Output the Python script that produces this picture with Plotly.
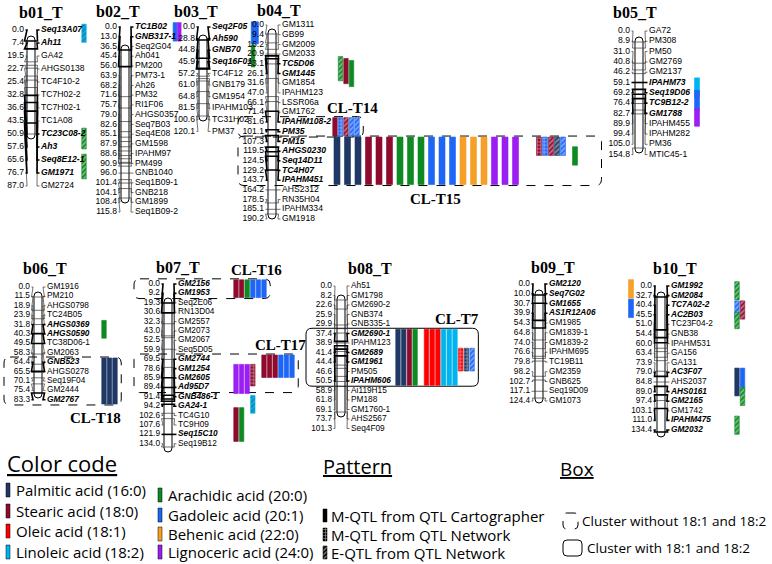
import plotly.graph_objects as go

# ---------------- DATA ----------------
b01_pos = [0.0, 7.4, 19.5, 22.7, 25.4, 32.8, 36.6, 43.5, 50.9, 57.6, 65.6, 76.7, 87.0]
b01_mk = ["Seq13A07", "Ah11", "GA42", "AHGS0138", "TC4F10-2", "TC7H02-2", "TC7H02-1", "TC1A08",
          "TC23C08-2", "Ah3", "Seq8E12-1", "GM1971", "GM2724"]
b01_hit = [1, 1, 0, 0, 0, 0, 0, 0, 1, 1, 1, 1, 0]

b02_pos = [0.0, 13.0, 36.5, 45.4, 56.0, 63.9, 68.2, 71.6, 75.7, 79.0, 82.6, 85.1, 87.9, 88.6, 90.9,
           96.0, 101.4, 104.1, 108.4, 115.8]
b02_mk = ["TC1B02", "GNB317-1", "Seq2G04", "Ah041", "PM200", "PM73-1", "Ah26", "PM32", "RI1F06",
          "AHGS0357", "Seq7B03", "Seq4E08", "GM1598", "IPAHM97", "PM499", "GNB1040", "Seq1B09-1",
          "GNB218", "GM1899", "Seq1B09-2"]
b02_hit = [1, 1] + [0] * 18

b03_pos = [0.0, 28.8, 44.8, 45.9, 57.2, 61.0, 64.8, 81.5, 100.6, 120.1]
b03_mk = ["Seq2F05", "Ah590", "GNB70", "Seq16F01", "TC4F12", "GNB179", "GM1954", "IPAHM103",
          "TC31H02", "PM37"]
b03_hit = [1, 1, 1, 1, 0, 0, 0, 0, 0, 0]

b04_pos = [0.0, 9.4, 16.2, 20.9, 23.1, 26.1, 31.6, 47.0, 66.1, 71.4, 81.6, 101.1, 107.3, 119.5,
           124.5, 129.2, 143.7, 164.2, 178.5, 185.1, 190.2]
b04_mk = ["GM1311", "GB99", "GM2009", "GM2033", "TC5D06", "GM1445", "GM1854", "IPAHM123",
          "LSSR06a", "GM1762", "IPAHM108-2", "PM35", "PM15", "AHGS0230", "Seq14D11", "TC4H07",
          "IPAHM451", "AHS2312", "RN35H04", "IPAHM334", "GM1918"]
b04_hit = [0, 0, 0, 0, 1, 1, 0, 0, 0, 0, 1, 1, 1, 1, 1, 1, 1, 0, 0, 0, 0]

b05_pos = [0.0, 8.9, 31.0, 40.8, 46.2, 59.1, 69.2, 76.4, 82.7, 89.9, 99.4, 105.0, 154.8]
b05_mk = ["GA72", "PM308", "PM50", "GM2769", "GM2137", "IPAHM73", "Seq19D06", "TC9B12-2",
          "GM1788", "IPAHM455", "IPAHM282", "PM36", "MTIC45-1"]
b05_hit = [0, 0, 0, 0, 0, 1, 1, 1, 1, 0, 0, 0, 0]

b06_pos = [0.0, 11.5, 18.9, 23.9, 31.8, 40.3, 49.5, 58.3, 64.4, 65.5, 70.1, 75.4, 83.3]
b06_mk = ["GM1916", "PM210", "AHGS0798", "TC24B05", "AHGS0369", "AHGS0590", "TC38D06-1",
          "GM2063", "GNB523", "AHGS0278", "Seq19F04", "GM2444", "GM2767"]
b06_hit = [0, 0, 0, 0, 1, 1, 0, 0, 1, 0, 0, 0, 1]

b07_pos = [0.0, 9.2, 19.3, 30.6, 32.3, 43.0, 52.5, 59.9, 69.5, 78.6, 85.9, 89.4, 91.4, 94.2,
           102.6, 107.6, 121.9, 134.0]
b07_mk = ["GM2156", "GM1953", "Seq2E06", "RN13D04", "GM2557", "GM2073", "GM2067", "Seq5D05",
          "GM2744", "GM1254", "GM2605", "Ad95D7", "GNB486-1", "GA24-1", "TC4G10", "TC9H09",
          "Seq15C10", "Seq19B12"]
b07_hit = [1, 1, 0, 0, 0, 0, 0, 0, 1, 1, 1, 1, 1, 1, 0, 0, 1, 0]

b08_pos = [0.0, 8.2, 22.6, 25.9, 29.9, 37.4, 38.9, 41.4, 44.4, 46.6, 50.5, 58.9, 61.8, 69.1,
           73.7, 101.3]
b08_mk = ["Ah51", "GM1798", "GM2690-2", "GNB374", "GNB335-1", "GM2690-1", "IPAHM123", "GM2689",
          "GM1961", "PM505", "IPAHM606", "Ai119H15", "PM188", "GM1760-1", "AHS2567", "Seq4F09"]
b08_hit = [0, 0, 0, 0, 0, 1, 0, 1, 1, 0, 1, 0, 0, 0, 0, 0]

b09_pos = [0.0, 10.0, 30.7, 39.9, 54.3, 64.8, 74.0, 76.6, 79.8, 98.2, 102.7, 117.1, 124.4]
b09_mk = ["GM2120", "Seq7G02", "GM1655", "AS1R12A06", "GM1985", "GM1839-1", "GM1839-2",
          "IPAHM695", "TC19B11", "GM2359", "GNB625", "Seq19D09", "GM1073"]
b09_hit = [1, 1, 1, 1, 0, 0, 0, 0, 0, 0, 0, 0, 0]

b10_pos = [0.0, 32.7, 40.4, 45.5, 51.0, 54.4, 60.0, 63.4, 73.9, 79.0, 84.8, 89.0, 97.4, 103.1,
           111.0, 134.4]
b10_mk = ["GM1992", "GM2084", "TC7A02-2", "AC2B03", "TC23F04-2", "GNB38", "IPAHM531", "GA156",
          "GA131", "AC3F07", "AHS2037", "AHS0161", "GM2165", "GM1742", "IPAHM475", "GM2032"]
b10_hit = [1, 1, 1, 1, 0, 0, 0, 0, 0, 1, 0, 1, 1, 0, 1, 1]

# QTL: (trait, first marker row, last marker row, method, column, column group)
# method: M = M-QTL (QTL Cartographer), N = M-QTL (QTL Network), E = E-QTL (QTL Network)
b01_qtl = [("18:2", 0, 0.5, "E", 0, "b01"), ("20:0", 8, 8.7, "E", 0, "b01"),
           ("20:0", 10, 11, "E", 0, "b01")]
b02_qtl = [("20:1", 0, 1, "M", 0, "b02"), ("24:0", 0, 1, "M", 1, "b02")]
b03_qtl = [("20:1", 0, 1, "M", 0, "b03"), ("20:1", 0, 1, "M", 1, "b03"),
           ("20:0", 2, 3, "M", 0, "b03")]
b04_qtl = [("20:0", 3.7, 5.3, "E", 1, "b04a"), ("18:0", 3.9, 5.6, "M", 2, "b04a"),
           ("20:0", 4.1, 5.9, "M", 3, "b04a"),
           ("18:0", 10, 11, "M", 0, "b04a"), ("20:1", 10, 11, "N", 1, "b04a"),
           ("18:0", 10, 11, "E", 2, "b04a"), ("20:1", 10, 11, "E", 3, "b04a"),
           ("20:1", 10, 11, "E", 4, "b04a"),
           ("16:0", 12, 16, "M", 0, "b04b"), ("16:0", 12, 16, "M", 1, "b04b"),
           ("16:0", 12, 16, "M", 2, "b04b"), ("18:0", 12, 16, "M", 3, "b04b"),
           ("18:0", 12, 16, "M", 4, "b04b"), ("18:0", 12, 16, "M", 5, "b04b"),
           ("20:0", 12, 16, "M", 6, "b04b"), ("20:0", 12, 16, "M", 7, "b04b"),
           ("20:0", 12, 16, "M", 8, "b04b"), ("20:1", 12, 16, "M", 9, "b04b"),
           ("20:1", 12, 16, "M", 10, "b04b"), ("20:1", 12, 16, "M", 11, "b04b"),
           ("22:0", 12, 16, "M", 12, "b04b"), ("22:0", 12, 16, "M", 13, "b04b"),
           ("22:0", 12, 16, "M", 14, "b04b"), ("24:0", 12, 16, "M", 15, "b04b"),
           ("24:0", 12, 16, "M", 16, "b04b"), ("24:0", 12, 16, "M", 17, "b04b"),
           ("18:0", 12, 13, "N", 0, "b04c"), ("20:1", 12, 13, "N", 1, "b04c"),
           ("18:0", 12, 13, "E", 2, "b04c"), ("16:0", 12, 13, "E", 3, "b04c"),
           ("20:1", 12, 13, "E", 4, "b04c"), ("20:0", 13, 14, "M", 6, "b04c")]
b05_qtl = [("18:2", 5, 6, "M", 0, "b05"), ("20:1", 6.2, 7.2, "M", 0, "b05"),
           ("24:0", 8, 8.8, "M", 0, "b05")]
b06_qtl = [("20:0", 4, 5, "M", 0, "b06"),
           ("16:0", 8, 12, "M", 0, "b06"), ("16:0", 8, 12, "M", 1, "b06"),
           ("16:0", 8, 12, "M", 2, "b06")]
b07_qtl = [("18:0", 0, 1, "M", 0, "b07"), ("18:0", 0, 1, "M", 1, "b07"),
           ("20:0", 0, 1, "M", 2, "b07"), ("20:1", 0, 1, "M", 3, "b07"),
           ("20:1", 0, 1, "M", 4, "b07"), ("20:1", 0, 1, "M", 5, "b07"),
           ("24:0", 9, 11.2, "M", 0, "b07"), ("24:0", 9, 11.2, "M", 1, "b07"),
           ("24:0", 9, 11.2, "M", 2, "b07"), ("18:0", 9, 10.4, "N", 3, "b07"),
           ("18:0", 8, 9.5, "M", 5, "b07"), ("18:0", 8, 9.5, "M", 6, "b07"),
           ("18:0", 8, 9.5, "M", 7, "b07"), ("20:1", 8, 9.5, "M", 8, "b07"),
           ("20:1", 8, 9.5, "M", 9, "b07"), ("20:1", 8, 9.5, "M", 10, "b07"),
           ("18:2", 12.3, 13.3, "E", 3, "b07"),
           ("18:0", 13.6, 16.3, "M", 0, "b07"), ("20:0", 13.6, 16.3, "M", 1, "b07")]
b08_qtl = [("16:0", 5, 10, "M", 0, "b08"), ("16:0", 5, 10, "M", 1, "b08"),
           ("18:0", 5, 10, "M", 2, "b08"), ("20:0", 5, 10, "M", 3, "b08"),
           ("18:1", 5, 10, "M", 5, "b08"), ("18:1", 5, 10, "M", 6, "b08"),
           ("18:1", 5, 10, "M", 7, "b08"), ("18:2", 5, 10, "M", 8, "b08"),
           ("18:2", 5, 10, "M", 9, "b08"), ("18:2", 5, 10, "M", 10, "b08"),
           ("18:1", 7, 8.5, "N", 11, "b08"), ("16:0", 7, 8.5, "N", 12, "b08"),
           ("20:1", 7, 8.5, "E", 13, "b08")]
b09_qtl = [("22:0", 0, 1, "M", 0, "b09"), ("20:1", 2, 3, "M", 0, "b09")]
b10_qtl = [("20:0", 0, 1, "E", 0, "b10"), ("20:1", 2, 3, "E", 0, "b10"),
           ("18:0", 2, 3, "E", 1, "b10"), ("20:0", 3.2, 4, "E", 0, "b10"),
           ("16:0", 9, 11, "M", 0, "b10"), ("20:1", 9, 10.5, "M", 1, "b10"),
           ("20:0", 11, 12, "E", 1, "b10"), ("20:0", 14, 15, "E", 0, "b10")]

# clusters: (label, chromosome, first row, last row, kind)
clusters = [("CL-T14", "b04_T", 10, 11, "dash"), ("CL-T15", "b04_T", 12, 16, "dash"),
            ("CL-T16", "b07_T", 0, 1, "dash"), ("CL-T17", "b07_T", 8, 11, "dash"),
            ("CL-T18", "b06_T", 8, 12, "dash"), ("CL-T7", "b08_T", 5, 10, "solid")]

trait_names = ["Palmitic acid (16:0)", "Stearic acid (18:0)", "Oleic acid (18:1)",
               "Linoleic acid (18:2)", "Arachidic acid (20:0)", "Gadoleic acid (20:1)",
               "Behenic acid (22:0)", "Lignoceric acid (24:0)"]
trait_codes = ["16:0", "18:0", "18:1", "18:2", "20:0", "20:1", "22:0", "24:0"]
pattern_names = ["M-QTL from QTL Cartographer", "M-QTL from QTL Network", "E-QTL from QTL Network"]
pattern_codes = ["M", "N", "E"]
box_names = ["Cluster without 18:1 and 18:2", "Cluster with 18:1 and 18:2"]

# ---------------- STYLE / LAYOUT ----------------
COLORS = {"16:0": "#1F3864", "18:0": "#8E0B2E", "18:1": "#FF0000", "18:2": "#00B4F0",
          "20:0": "#0E8A22", "20:1": "#1E66F5", "22:0": "#F7A028", "24:0": "#9B1EF2"}
PAT = {"M": "", "N": "+", "E": "/"}

# geometry of each linkage group, in pixels of the 772x564 canvas
GEOM = {
    "b01_T": dict(pr=24, cx=31, nl=41, ly0=30, dy=13.0, top=41, bot=134, tx=41, ty=12, fs=8.6),
    "b02_T": dict(pr=117, cx=125, nl=135, ly0=27, dy=9.74, top=50, bot=198, tx=118, ty=11, fs=8.6),
    "b03_T": dict(pr=195, cx=203, nl=212, ly0=27, dy=11.6, top=40, bot=116, tx=196, ty=11, fs=8.6),
    "b04_T": dict(pr=264, cx=272, nl=282, ly0=25, dy=9.7, top=34, bot=214, tx=279, ty=10, fs=8.6),
    "b05_T": dict(pr=630, cx=639, nl=649, ly0=31, dy=10.3, top=42, bot=148, tx=635, ty=12, fs=8.6),
    "b06_T": dict(pr=30, cx=38, nl=47, ly0=287, dy=9.4, top=297, bot=393, tx=45, ty=268, fs=8.3),
    "b07_T": dict(pr=160, cx=168, nl=178, ly0=284, dy=9.4, top=303, bot=447, tx=178, ty=267, fs=8.3),
    "b08_T": dict(pr=332, cx=341, nl=351, ly0=286, dy=9.5, top=300, bot=412, tx=370, ty=268, fs=8.3),
    "b09_T": dict(pr=530, cx=539, nl=549, ly0=284, dy=9.75, top=295, bot=398, tx=553, ty=267, fs=8.3),
    "b10_T": dict(pr=652, cx=661, nl=671, ly0=286, dy=9.6, top=297, bot=432, tx=675, ty=268, fs=8.3),
}
# QTL column groups: first column x, column step, bar width
QGEOM = {"b01": (84, 5, 4.5), "b02": (175, 4.2, 3.8), "b03": (253, 3.6, 3.6),
         "b04a": (335, 5.5, 4.5), "b04b": (337, 10.5, 6), "b04c": (539, 6, 5),
         "b05": (697, 5, 5), "b06": (104, 5.5, 4.5), "b07": (236, 5.6, 4.5),
         "b08": (398, 5.7, 4.5), "b09": (631, 5, 5), "b10": (737, 5.5, 4.5)}
# cluster label placement: (above/below, x shift, box right padding)
CL_STYLE = {"CL-T14": ("above", 6, 4), "CL-T15": ("below", -20, 24), "CL-T16": ("above", 6, 4),
            "CL-T17": ("above", 16, 4), "CL-T18": ("below", -14, 4), "CL-T7": ("above", 22, 4)}

CHW = 8
TXT = "Liberation Sans"

chroms = [("b01_T", b01_pos, b01_mk, b01_hit, b01_qtl),
          ("b02_T", b02_pos, b02_mk, b02_hit, b02_qtl),
          ("b03_T", b03_pos, b03_mk, b03_hit, b03_qtl),
          ("b04_T", b04_pos, b04_mk, b04_hit, b04_qtl),
          ("b05_T", b05_pos, b05_mk, b05_hit, b05_qtl),
          ("b06_T", b06_pos, b06_mk, b06_hit, b06_qtl),
          ("b07_T", b07_pos, b07_mk, b07_hit, b07_qtl),
          ("b08_T", b08_pos, b08_mk, b08_hit, b08_qtl),
          ("b09_T", b09_pos, b09_mk, b09_hit, b09_qtl),
          ("b10_T", b10_pos, b10_mk, b10_hit, b10_qtl)]


def rrect(x0, y0, x1, y1, r):
    return (f"M{x0 + r},{y0} L{x1 - r},{y0} Q{x1},{y0} {x1},{y0 + r} L{x1},{y1 - r} "
            f"Q{x1},{y1} {x1 - r},{y1} L{x0 + r},{y1} Q{x0},{y1} {x0},{y1 - r} "
            f"L{x0},{y0 + r} Q{x0},{y0} {x0 + r},{y0} Z")


fig = go.Figure()
shapes = []
annotations = []
bar_x, bar_base, bar_h, bar_w, bar_col, bar_pat = [], [], [], [], [], []
cluster_geo = []

for name, pos, mk, hit, qtl in chroms:
    g = GEOM[name]
    span = pos[-1] - pos[0]

    def ty(p, g=g, span=span, p0=pos[0]):
        return g["top"] + (p - p0) / span * (g["bot"] - g["top"])

    def ly(i, g=g):
        return g["ly0"] + i * g["dy"]

    cl, cr = g["cx"] - CHW / 2, g["cx"] + CHW / 2
    shapes.append(dict(type="path", path=rrect(cl, g["top"] - 5, cr, g["bot"] + 5, CHW / 2),
                       line=dict(color="black", width=1), fillcolor="white", layer="below"))
    thin_x, thin_y, bold_x, bold_y = [], [], [], []
    for i, p in enumerate(pos):
        y_t, y_l = ty(p), ly(i)
        xs = [g["pr"] + 1.5, g["pr"] + 3, cl - 2.5, cl, cr, cr + 2.5, g["nl"] - 4, g["nl"] - 1.5, None]
        ys = [y_l, y_l, y_t, y_t, y_t, y_t, y_l, y_l, None]
        if hit[i]:
            bold_x += xs; bold_y += ys
        else:
            thin_x += xs; thin_y += ys
    fig.add_trace(go.Scatter(x=thin_x, y=thin_y, mode="lines", hoverinfo="skip",
                             line=dict(color="#333333", width=0.7)))
    fig.add_trace(go.Scatter(x=bold_x, y=bold_y, mode="lines", hoverinfo="skip",
                             line=dict(color="black", width=1.6)))
    fig.add_trace(go.Scatter(x=[g["pr"]] * len(pos), y=[ly(i) for i in range(len(pos))],
                             mode="text", text=[f"{p:.1f}" for p in pos], textposition="middle left",
                             textfont=dict(family=TXT, size=g["fs"], color="black"), hoverinfo="skip"))
    fig.add_trace(go.Scatter(x=[g["nl"]] * len(mk), y=[ly(i) for i in range(len(mk))],
                             mode="text",
                             text=[f"<b><i>{m}</i></b>" if h else m for m, h in zip(mk, hit)],
                             textposition="middle right",
                             textfont=dict(family=TXT, size=g["fs"], color="black"), hoverinfo="skip"))
    annotations.append(dict(x=g["tx"], y=g["ty"], text=f"<b>{name}</b>", showarrow=False,
                            font=dict(family="Liberation Serif", size=16, color="black")))
    placed = []
    for trait, a, b, meth, col, grp in qtl:
        qx, step, bw = QGEOM[grp]
        y0 = ly(a) - 0.45 * g["dy"]
        y1 = ly(b) + 0.45 * g["dy"]
        x = qx + col * step
        bar_x.append(x); bar_base.append(y0); bar_h.append(y1 - y0)
        bar_w.append(bw); bar_col.append(COLORS[trait]); bar_pat.append(PAT[meth])
        placed.append((a, b, x - bw / 2, x + bw / 2))
    for lab, cname, a, b, kind in clusters:
        if cname != name:
            continue
        inside = [p for p in placed if p[0] >= a - 0.5 and p[1] <= b + 0.8]
        xmin = min(p[2] for p in inside)
        xmax = max(p[3] for p in inside)
        cluster_geo.append((lab, g["pr"] - 26, ly(a) - 0.55 * g["dy"], xmax, ly(b) + 0.55 * g["dy"],
                            kind, xmin))

for lab, x0, y0, xmax, y1, kind, xmin in cluster_geo:
    where, dx, pad = CL_STYLE[lab]
    x1 = xmax + pad
    shapes.append(dict(type="path", path=rrect(x0, y0, x1, y1, 6),
                       line=dict(color="black", width=1, dash="dash" if kind == "dash" else "solid"),
                       fillcolor="rgba(0,0,0,0)", layer="below"))
    lyy = y0 - 9 if where == "above" else y1 + 13
    annotations.append(dict(x=(xmin + xmax) / 2 + dx, y=lyy, text=f"<b>{lab}</b>", showarrow=False,
                            font=dict(family="Liberation Serif", size=15, color="black")))

fig.add_trace(go.Bar(x=bar_x, y=bar_h, base=bar_base, width=bar_w, hoverinfo="skip",
                     marker=dict(color=bar_col, line=dict(color=bar_col, width=0.6),
                                 pattern=dict(shape=bar_pat, fgcolor="white", size=3.5,
                                              solidity=0.45, fillmode="overlay"))))

# ---------------- LEGEND ----------------
LEG = "Open Sans"
annotations.append(dict(x=5, y=463, xanchor="left", text="<u>Color code</u>", showarrow=False,
                        font=dict(family=LEG, size=22, color="black")))
annotations.append(dict(x=321, y=466, xanchor="left", text="<u>Pattern</u>", showarrow=False,
                        font=dict(family=LEG, size=20, color="black")))
annotations.append(dict(x=558, y=469, xanchor="left", text="<u>Box</u>", showarrow=False,
                        font=dict(family=LEG, size=19, color="black")))

leg_x, leg_base, leg_h, leg_col, leg_pat = [], [], [], [], []
col1_y = [490, 511, 531, 552]
col2_y = [495, 515, 534, 552]
for k, (nm, code) in enumerate(zip(trait_names, trait_codes)):
    if k < 4:
        sx, yy = 8, col1_y[k]
    else:
        sx, yy = 160, col2_y[k - 4]
    leg_x.append(sx); leg_base.append(yy - 7); leg_h.append(14)
    leg_col.append(COLORS[code]); leg_pat.append("")
    annotations.append(dict(x=sx + 6, y=yy, xanchor="left", text=nm, showarrow=False,
                            font=dict(family=LEG, size=15, color="black")))
pat_y = [516, 535, 553]
for k, (nm, code) in enumerate(zip(pattern_names, pattern_codes)):
    leg_x.append(325); leg_base.append(pat_y[k] - 7); leg_h.append(13)
    leg_col.append("black"); leg_pat.append(PAT[code])
    annotations.append(dict(x=329, y=pat_y[k], xanchor="left", text=nm, showarrow=False,
                            font=dict(family=LEG, size=15, color="black")))
fig.add_trace(go.Bar(x=leg_x, y=leg_h, base=leg_base, width=[4] * len(leg_x), hoverinfo="skip",
                     marker=dict(color=leg_col, line=dict(color="black", width=0.5),
                                 pattern=dict(shape=leg_pat, fgcolor="white", size=3,
                                              solidity=0.45, fillmode="overlay"))))
box_y = [521, 548]
for k, nm in enumerate(box_names):
    shapes.append(dict(type="path", path=rrect(563, box_y[k] - 8, 578 + 4 * k, box_y[k] + 8, 4),
                       line=dict(color="black", width=1, dash="dash" if k == 0 else "solid"),
                       fillcolor="rgba(0,0,0,0)"))
    annotations.append(dict(x=580 + 5 * k, y=box_y[k], xanchor="left", text=nm, showarrow=False,
                            font=dict(family=LEG, size=13.5, color="black")))

fig.update_layout(width=772, height=564, margin=dict(l=0, r=0, t=0, b=0), autosize=False,
                  plot_bgcolor="white", paper_bgcolor="white", showlegend=False,
                  barmode="overlay", bargap=0,
                  xaxis=dict(range=[0, 772], visible=False, fixedrange=True),
                  yaxis=dict(range=[564, 0], visible=False, fixedrange=True),
                  shapes=shapes, annotations=annotations)
fig.write_html("out.html", config={"displayModeBar": False, "staticPlot": True},
               post_script="document.body.style.margin='0px';document.body.style.padding='0px';")
